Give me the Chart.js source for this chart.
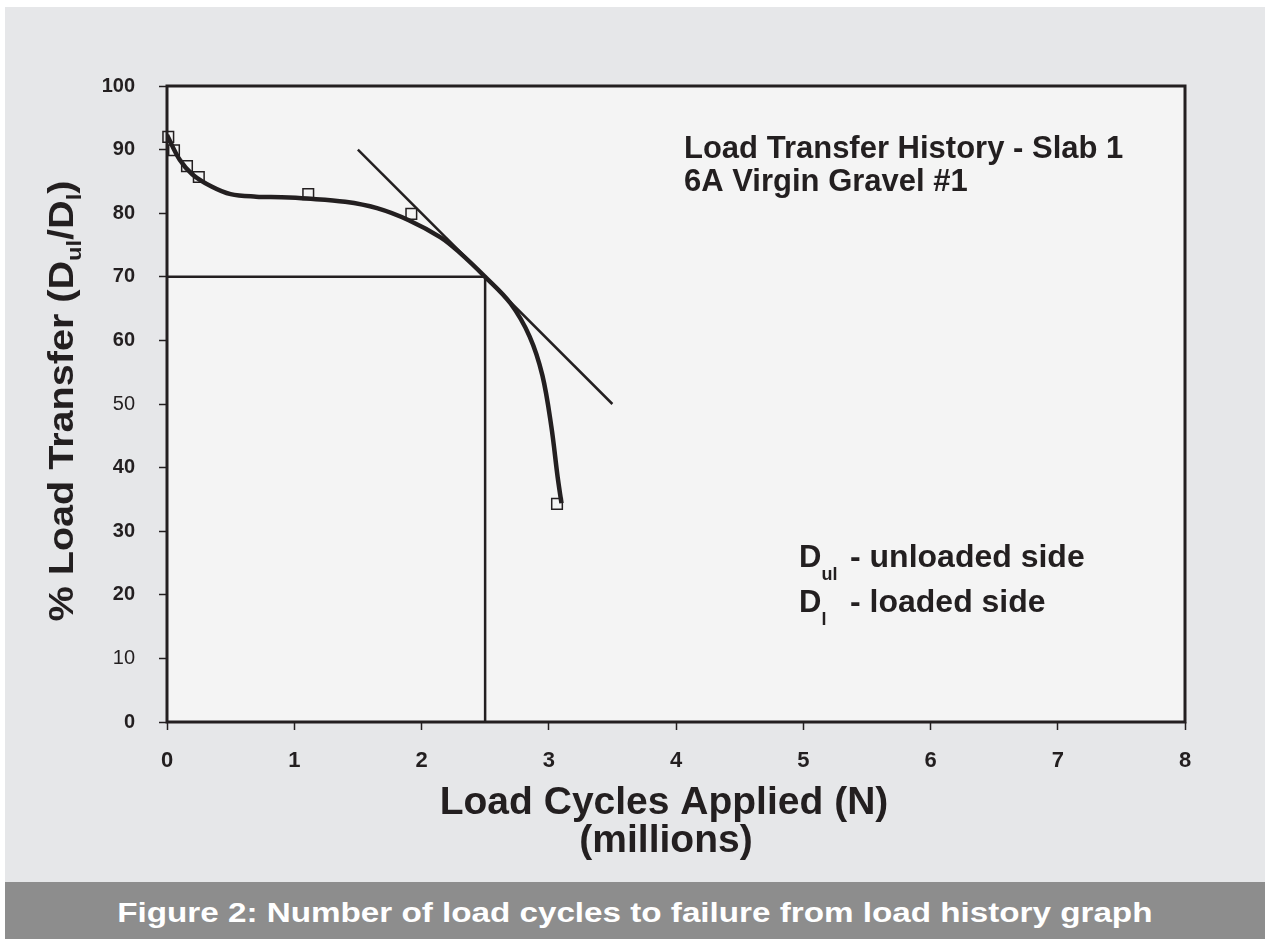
<!DOCTYPE html>
<html><head><meta charset="utf-8">
<script src="https://cdn.jsdelivr.net/npm/chart.js@4"></script>
<style>
html,body{margin:0;padding:0;background:#fff;width:1265px;height:939px;overflow:hidden;}
#panel{position:absolute;left:5px;top:7px;width:1260px;height:875px;background:#e6e7e9;}
#wrap{position:absolute;left:0;top:0;width:1265px;height:882px;}
#caption{position:absolute;left:5px;top:882px;width:1260px;height:57px;background:#8d8d8d;color:#fff;text-align:center;}
#caption span{display:inline-block;font:bold 27px "Liberation Sans",Arial,sans-serif;line-height:57px;padding-top:3px;transform:scaleX(1.23);transform-origin:center;}
</style></head>
<body>
<div id="panel"></div>
<div id="wrap"><canvas id="c" width="1265" height="882"></canvas></div>
<div id="caption"><span>Figure 2: Number of load cycles to failure from load history graph</span></div>
<script>
// ---- data ----
const xTickValues = [0,1,2,3,4,5,6,7,8];
const yTickValues = [0,10,20,30,40,50,60,70,80,90,100];
const obsX = [0.01, 0.055, 0.157, 0.25, 1.11, 1.92, 3.065];
const obsY = [92.0, 89.9, 87.4, 85.7, 83.0, 79.9, 34.3];
const fitX = [0.0, 0.1, 0.2, 0.35, 0.5, 0.7, 0.9, 1.1, 1.4, 1.65, 1.9, 2.15, 2.3, 2.5, 2.7, 2.85, 2.95, 3.02, 3.07, 3.1];
const fitY = [92.3, 88.4, 86.1, 84.2, 83.0, 82.6, 82.5, 82.3, 81.8, 80.8, 78.9, 76.2, 73.8, 70.0, 65.8, 60.6, 54.5, 46.5, 38.5, 34.4];
const tangentX = [1.5, 3.5];
const tangentY = [90, 50];
const guideX = [0, 2.5, 2.5];
const guideY = [70, 70, 0];
const lightTicks = [10, 50];

const FAM = '"Liberation Sans", Arial, Helvetica, sans-serif';
const INK = '#231f20';
const pts = (xs, ys) => xs.map((x, i) => ({x, y: ys[i]}));

function drawRuns(ctx, runs, x, y, o) {
  o = o || {};
  ctx.save();
  ctx.translate(x, y);
  if (o.rot) ctx.rotate(o.rot);
  ctx.scale(o.sx || 1, 1);
  ctx.textBaseline = 'alphabetic';
  ctx.textAlign = 'left';
  ctx.fillStyle = INK;
  let w = 0;
  runs.forEach(r => { ctx.font = 'bold ' + r[1] + 'px ' + FAM; w += ctx.measureText(r[0]).width; });
  let cx = o.align === 'center' ? -w / 2 : 0;
  runs.forEach(r => {
    ctx.font = 'bold ' + r[1] + 'px ' + FAM;
    ctx.fillText(r[0], cx, r[2] || 0);
    cx += ctx.measureText(r[0]).width;
  });
  ctx.restore();
}

const decor = {
  id: 'decor',
  beforeDraw(chart) {
    const {ctx, chartArea: a} = chart;
    ctx.save();
    ctx.fillStyle = '#f4f4f4';
    ctx.fillRect(a.left, a.top, a.right - a.left, a.bottom - a.top);
    ctx.restore();
  },
  afterDraw(chart) {
    const {ctx, chartArea: a} = chart;
    ctx.save();
    ctx.strokeStyle = INK;
    ctx.lineWidth = 3;
    ctx.strokeRect(a.left, a.top, a.right - a.left, a.bottom - a.top);
    ctx.restore();
    // annotation
    drawRuns(ctx, [['Load Transfer History - Slab 1', 31]], 684, 158);
    drawRuns(ctx, [['6A Virgin Gravel #1', 31]], 684, 191);
    // legend of symbols
    drawRuns(ctx, [['D', 31], ['ul', 18, 13]], 799, 567);
    drawRuns(ctx, [['- unloaded side', 32]], 850, 567);
    drawRuns(ctx, [['D', 31], ['l', 18, 13]], 799, 612);
    drawRuns(ctx, [['- loaded side', 32]], 850, 612);
    // axis titles
    drawRuns(ctx, [['Load Cycles Applied (N)', 39]], 664, 814, {align: 'center'});
    drawRuns(ctx, [['(millions)', 39]], 666, 852, {align: 'center'});
    drawRuns(ctx, [['% Load Transfer (D', 35], ['ul', 21, 8], ['/D', 35], ['l', 21, 8], [')', 35]],
      73, 401, {align: 'center', rot: -Math.PI / 2, sx: 1.13});
  }
};

new Chart(document.getElementById('c'), {
  type: 'scatter',
  data: {
    datasets: [
      {data: pts(guideX, guideY), showLine: true, borderColor: INK, borderWidth: 2.5, pointRadius: 0, tension: 0},
      {data: pts(tangentX, tangentY), showLine: true, borderColor: INK, borderWidth: 2.5, pointRadius: 0, tension: 0},
      {data: pts(fitX, fitY), showLine: true, borderColor: INK, borderWidth: 4.5, pointRadius: 0, tension: 0.35},
      {data: pts(obsX, obsY), showLine: false, pointStyle: 'rect', pointRadius: 7.5, borderWidth: 1.5,
       borderColor: INK, backgroundColor: 'rgba(0,0,0,0)', clip: false}
    ]
  },
  options: {
    responsive: false,
    animation: false,
    events: [],
    layout: {padding: {top: 86, right: 80, left: 0, bottom: 0}},
    plugins: {legend: {display: false}, tooltip: {enabled: false}},
    scales: {
      x: {
        type: 'linear', min: 0, max: 8,
        afterFit: s => { s.height = 160; },
        afterBuildTicks: s => { s.ticks = xTickValues.map(v => ({value: v})); },
        ticks: {color: INK, padding: 18, font: {family: FAM, size: 22, weight: 'bold'}, maxRotation: 0},
        grid: {drawOnChartArea: false, drawTicks: true, tickLength: 8, tickColor: INK, tickWidth: 1.5},
        border: {display: false}
      },
      y: {
        type: 'linear', min: 0, max: 100,
        afterFit: s => { s.width = 167; },
        afterBuildTicks: s => { s.ticks = yTickValues.map(v => ({value: v})); },
        ticks: {
          color: INK, padding: 24,
          font: ctx => ({family: FAM, size: 20,
            weight: (ctx.tick && lightTicks.includes(ctx.tick.value)) ? 'normal' : 'bold'})
        },
        grid: {drawOnChartArea: false, drawTicks: true, tickLength: 8, tickColor: INK, tickWidth: 1.5},
        border: {display: false}
      }
    }
  },
  plugins: [decor]
});
</script>
</body></html>
